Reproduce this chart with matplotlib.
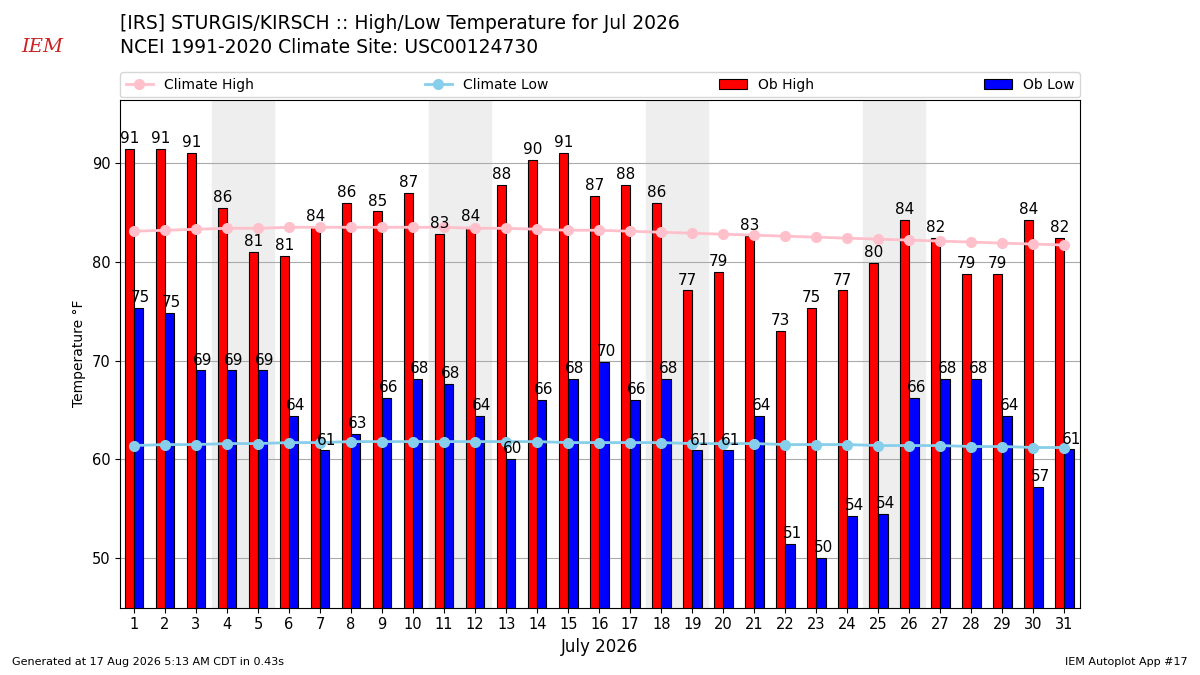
import matplotlib
matplotlib.use("Agg")
import matplotlib.pyplot as plt
import numpy as np

days = list(range(1, 32))
ob_high = [91.4,91.4,91.0,85.5,81.0,80.6,83.5,86.0,85.1,87.0,82.8,83.5,87.8,90.3,91.0,86.7,
           87.8,86.0,77.1,79.0,82.6,73.0,75.3,77.1,79.9,84.2,82.4,78.8,78.8,84.2,82.4]
ob_low = [75.3,74.8,69.0,69.0,69.0,64.4,60.9,62.6,66.2,68.1,67.6,64.4,60.0,66.0,68.1,69.9,
          66.0,68.1,60.9,60.9,64.4,51.4,50.0,54.3,54.5,66.2,68.1,68.1,64.4,57.2,61.0]
clim_high = [83.1,83.2,83.3,83.4,83.4,83.5,83.5,83.5,83.5,83.5,83.5,83.4,83.4,83.3,83.2,83.2,
             83.1,83.0,82.9,82.8,82.7,82.6,82.5,82.4,82.3,82.2,82.1,82.0,81.9,81.8,81.7]
clim_low = [61.4,61.5,61.5,61.6,61.6,61.7,61.7,61.8,61.8,61.8,61.8,61.8,61.8,61.8,61.7,61.7,
            61.7,61.7,61.6,61.6,61.6,61.5,61.5,61.5,61.4,61.4,61.4,61.3,61.3,61.2,61.2]
weekends = [4, 11, 18, 25]

fig = plt.figure(figsize=(12, 6.75), dpi=100)
ax = fig.add_axes([0.1, 0.1, 0.8, 0.752])
x = np.array(days)
for w in weekends:
    ax.axvspan(w - 0.5, w + 1.5, color="#eeeeee", zorder=0)
ax.grid(axis="y", color="#aaaaaa", lw=0.8, zorder=1)
ax.set_axisbelow(True)
ax.plot(x, clim_high, color="pink", marker="o", ms=7, lw=2, label="Climate High", zorder=3)
ax.plot(x, clim_low, color="skyblue", marker="o", ms=7, lw=2, label="Climate Low", zorder=3)
ax.bar(x - 0.15, ob_high, width=0.3, color="red", edgecolor="black", lw=0.8, label="Ob High", zorder=2)
ax.bar(x + 0.15, ob_low, width=0.3, color="blue", edgecolor="black", lw=0.8, label="Ob Low", zorder=2)
for xi, h, l in zip(x, ob_high, ob_low):
    ax.text(xi - 0.15, h + 0.3, f"{round(h)}", ha="center", va="bottom", fontsize=11, zorder=4)
    ax.text(xi + 0.22, l + 0.3, f"{round(l)}", ha="center", va="bottom", fontsize=11, zorder=4)
ax.set_xlim(0.55, 31.5)
ax.set_ylim(45, 96.4)
ax.set_xticks(days)
ax.set_yticks([50, 60, 70, 80, 90])
ax.tick_params(labelsize=10.5)
ax.set_xlabel("July 2026", fontsize=12)
ax.set_ylabel("Temperature °F")
ax.legend(ncol=4, mode="expand", loc="lower left", bbox_to_anchor=(0, 1.005, 1, 0.05),
          fontsize=10, borderaxespad=0)
fig.text(0.1, 0.965, "[IRS] STURGIS/KIRSCH :: High/Low Temperature for Jul 2026", fontsize=13.5, va="center")
fig.text(0.1, 0.93, "NCEI 1991-2020 Climate Site: USC00124730", fontsize=13.5, va="center")
fig.text(0.018, 0.93, "IEM", color="#cc2222", fontsize=14, style="italic", family="serif", va="center")
fig.text(0.01, 0.015, "Generated at 17 Aug 2026 5:13 AM CDT in 0.43s", fontsize=8)
fig.text(0.99, 0.015, "IEM Autoplot App #17", fontsize=8, ha="right")
fig.savefig("out.png")
